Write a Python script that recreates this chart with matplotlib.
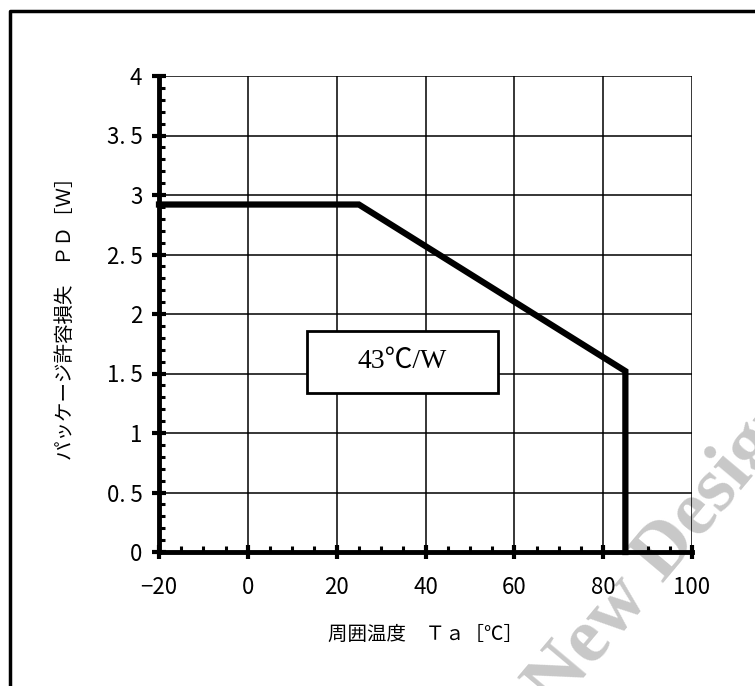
import matplotlib
matplotlib.use("Agg")
import matplotlib.pyplot as plt
from matplotlib.lines import Line2D
from matplotlib.patches import Rectangle
from matplotlib.ticker import MultipleLocator

# derating curve: package dissipation vs ambient temperature
ta = [-20, 25, 85, 85]
pd_w = [2.92, 2.92, 1.52, 0.0]
x_ticks = [-20, 0, 20, 40, 60, 80, 100]
y_ticks = [0, 0.5, 1, 1.5, 2, 2.5, 3, 3.5, 4]
y_ticklabels = ["0", "0. 5", "1", "1. 5", "2", "2. 5", "3", "3. 5", "4"]
note = "43℃/W"
xlabel = "周囲温度　Ｔａ［℃］"
ylabel = "パッケージ許容損失　ＰＤ［Ｗ］"

JP = ["Noto Sans CJK JP", "DejaVu Sans"]
SERIF = ["Liberation Serif", "Noto Sans CJK JP"]

W, H = 755, 686
fig = plt.figure(figsize=(W / 100, H / 100), dpi=100)
ax = fig.add_axes([159 / W, 1 - 552 / H, (692 - 159) / W, (552 - 76) / H])
ax.set_facecolor("none")

# watermark, kept under grid, ticks and labels
ax.text(556 / W, 1 - 711 / H, "New Design", transform=fig.transFigure,
        fontsize=56, fontweight="bold", family=SERIF, color="#c8c8c8",
        rotation=50, rotation_mode="anchor", ha="left", va="baseline",
        zorder=0.1, clip_on=False)

# outer frame (clipped at right / bottom)
fig.add_artist(Line2D([10 / W, 10 / W, 1.0], [0.0, 1 - 11 / H, 1 - 11 / H],
                      transform=fig.transFigure, color="black", lw=2.5))

ax.plot(ta, pd_w, color="black", lw=4.5, solid_joinstyle="miter", zorder=4,
        clip_on=False)

ax.set_xlim(-20, 100)
ax.set_ylim(0, 4)
ax.set_xticks(x_ticks)
ax.set_yticks(y_ticks)
ax.set_xticklabels([str(v) if v >= 0 else "−" + str(-v) for v in x_ticks], family=JP, fontsize=16)
ax.set_yticklabels(y_ticklabels, family=JP, fontsize=16)
ax.xaxis.set_minor_locator(MultipleLocator(5))
ax.yaxis.set_minor_locator(MultipleLocator(0.1))
ax.grid(True, which="major", color="black", lw=1.1)
ax.set_axisbelow(True)

for s in ("top", "right"):
    ax.spines[s].set_visible(False)
for s in ("left", "bottom"):
    ax.spines[s].set_linewidth(3.5)
    ax.spines[s].set_zorder(5)
ax.tick_params(which="major", direction="inout", length=10, width=3, pad=7)
ax.tick_params(which="minor", direction="in", length=4.5, width=2.2)
ax.tick_params(axis="x", which="major", pad=12)

# note box
ax.add_patch(Rectangle((13.3, 1.336), 43.0, 0.521, facecolor="white",
                       edgecolor="black", lw=2, zorder=3))
ax.text(34.8, 1.6, note, family=SERIF, fontsize=20, ha="center", va="center", zorder=4)

ax.set_xlabel(xlabel, family=JP, fontsize=14, labelpad=18)
ax.set_ylabel(ylabel, family=JP, fontsize=14, labelpad=22)

fig.savefig("out.png", dpi=100)
